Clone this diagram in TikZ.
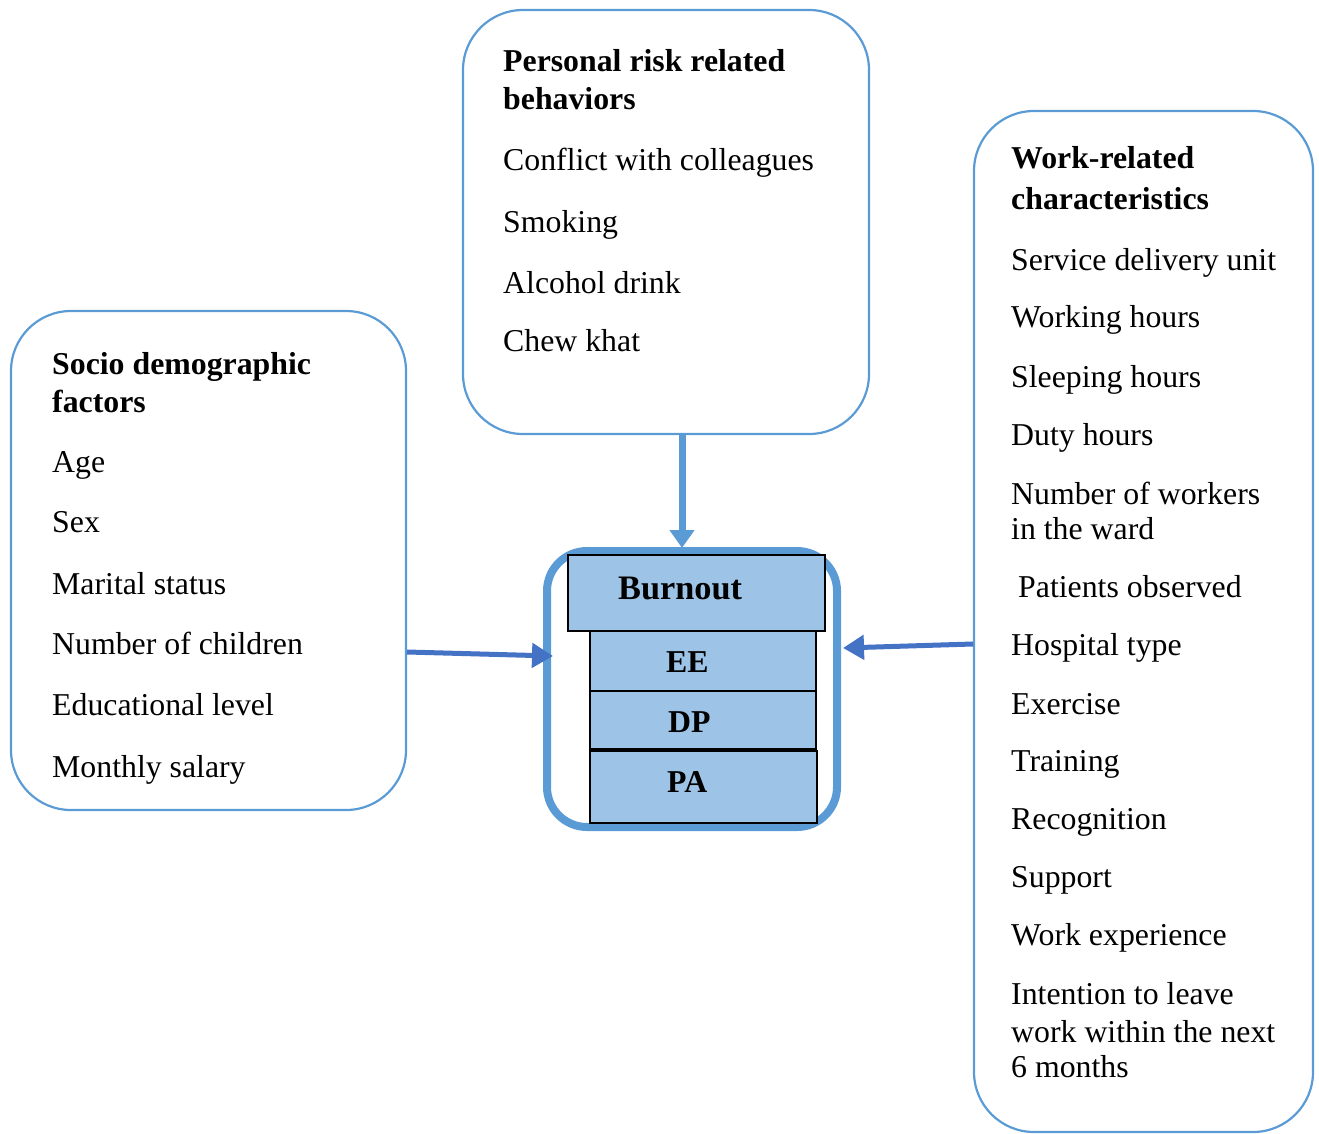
\documentclass[tikz,border=0pt]{standalone}
\usepackage{fontspec}
\setmainfont{Liberation Serif}
\usetikzlibrary{arrows.meta}

\definecolor{boxblue}{HTML}{5B9BD5}
\definecolor{arrblue}{HTML}{4472C4}
\definecolor{cellblue}{HTML}{9DC3E6}

\tikzset{
  factorbox/.style={draw=boxblue, line width=2.2pt, rounded corners=60pt, inner sep=0pt},
  burnbox/.style={draw=boxblue, line width=8pt, rounded corners=40pt, inner sep=0pt},
  cell/.style={draw=black, line width=1.2pt, fill=cellblue, inner sep=0pt},
  item/.style={anchor=base west, inner sep=0pt, yshift=-2pt, font=\fontsize{31.8pt}{38pt}\selectfont},
  head/.style={item, font=\fontsize{31.8pt}{38pt}\selectfont\bfseries},
  celltext/.style={item, font=\fontsize{31.8pt}{38pt}\selectfont\bfseries},
  downarrow/.style={draw=boxblue, line width=7pt, -{Triangle[length=18pt,width=24pt]}},
  sidearrow/.style={draw=arrblue, line width=5pt, -{Triangle[length=21pt,width=24pt]}}
}

\begin{document}
\begin{tikzpicture}[x=1pt, y=-1pt]
\useasboundingbox (0,0) rectangle (1319,1134);

\node[factorbox, minimum width=406pt, minimum height=424pt] (personal) at (666,222) {};
\node[factorbox, minimum width=395pt, minimum height=499pt] (socio) at (208.5,560.5) {};
\node[factorbox, minimum width=339pt, minimum height=1021pt] (work) at (1143.5,621.5) {};

\node[head] (personalh1) at (503,70) {Personal risk related};
\node[head] (personalh2) at (503,108) {behaviors};
\node[item] (conflict) at (503,169) {Conflict with colleagues};
\node[item] (smoking) at (503,231) {Smoking};
\node[item] (alcohol) at (503,291) {Alcohol drink};
\node[item] (khat) at (503,349) {Chew khat};

\node[head] (socioh1) at (52,372) {Socio demographic};
\node[head] (socioh2) at (52,410) {factors};
\node[item] (age) at (52,470) {Age};
\node[item] (sex) at (52,530) {Sex};
\node[item] (marital) at (52,592) {Marital status};
\node[item] (children) at (52,652) {Number of children};
\node[item] (education) at (52,713) {Educational level};
\node[item] (salary) at (52,775) {Monthly salary};

\node[head] (workh1) at (1011,167) {Work-related};
\node[head] (workh2) at (1011,207) {characteristics};
\node[item] (unit) at (1011,268) {Service delivery unit};
\node[item] (workhrs) at (1011,325) {Working hours};
\node[item] (sleephrs) at (1011,385) {Sleeping hours};
\node[item] (dutyhrs) at (1011,443) {Duty hours};
\node[item] (workers1) at (1011,502) {Number of workers};
\node[item] (workers2) at (1011,537) {in the ward};
\node[item] (patients) at (1018,595) {Patients observed};
\node[item] (hosptype) at (1011,653) {Hospital type};
\node[item] (exercise) at (1011,712) {Exercise};
\node[item] (training) at (1011,769) {Training};
\node[item] (recognition) at (1011,827) {Recognition};
\node[item] (support) at (1011,885) {Support};
\node[item] (experience) at (1011,943) {Work experience};
\node[item] (leave1) at (1011,1002) {Intention to leave};
\node[item] (leave2) at (1011,1040) {work within the next};
\node[item] (leave3) at (1011,1075) {6 months};

\node[burnbox, minimum width=290pt, minimum height=276pt] (burnout) at (692,689) {};
\node[cell, minimum width=257pt, minimum height=76pt] (burnhead) at (696.5,593) {};
\node[cell, minimum width=226pt, minimum height=60pt] (ee) at (703,661) {};
\node[cell, minimum width=226pt, minimum height=58pt] (dp) at (703,720) {};
\node[cell, minimum width=227pt, minimum height=72pt] (pa) at (703.5,787) {};
\node[celltext, font=\fontsize{34.3pt}{40pt}\selectfont\bfseries] (burntext) at (618,597) {Burnout};
\node[celltext] (eetext) at (666,670) {EE};
\node[celltext] (dptext) at (668,730) {DP};
\node[celltext] (patext) at (667,790) {PA};

\coordinate (burntop) at (682,548);
\coordinate (socioout) at (407,652);
\coordinate (burnleft) at (553,656);
\coordinate (workout) at (973,644);
\coordinate (burnright) at (843,648);

\draw[downarrow] (personal.south -| burntop) -- (burntop);
\draw[sidearrow] (socioout) -- (burnleft);
\draw[sidearrow] (workout) -- (burnright);

\end{tikzpicture}
\end{document}
